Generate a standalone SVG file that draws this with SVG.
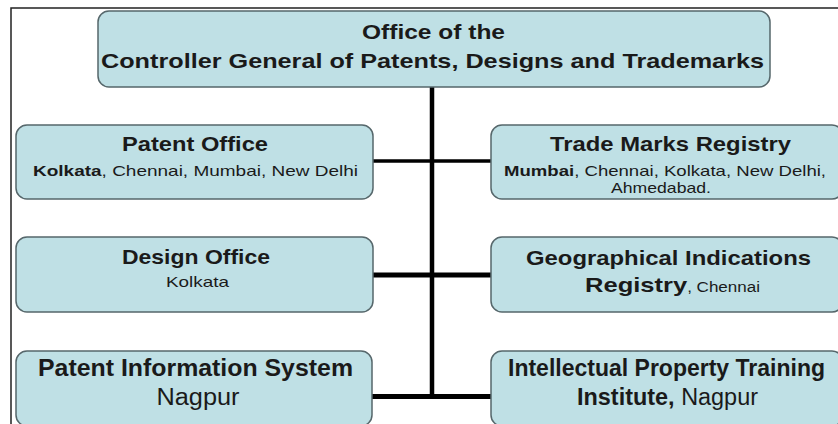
<svg xmlns="http://www.w3.org/2000/svg" width="838" height="424" viewBox="0 0 838 424">
  <style>
    .box { fill: #bfe0e5; stroke: #56676b; stroke-width: 1.5; }
    text { font-family: "Liberation Sans", Arial, sans-serif; fill: #1a1a1a; text-anchor: middle; }
    .h { font-weight: bold; font-size: 21px; }
    .hl { font-weight: bold; font-size: 23px; }
    .s { font-size: 15px; }
    .b { font-weight: bold; }
    .n { font-weight: normal; }
    .conn { stroke: #000; fill: none; }
  </style>
  <rect x="0" y="0" width="838" height="424" fill="#ffffff"/>
  <g id="frame">
    <path d="M11 424 V8 H838" fill="none" stroke="#222" stroke-width="1.5"/>
  </g>
  <g id="connectors">
    <line class="conn" x1="432" y1="87" x2="432" y2="399" stroke-width="4.5"/>
    <line class="conn" x1="373" y1="161" x2="491" y2="161" stroke-width="3.3"/>
    <line class="conn" x1="373" y1="275" x2="491" y2="275" stroke-width="5"/>
    <line class="conn" x1="372" y1="396.5" x2="491" y2="396.5" stroke-width="5"/>
  </g>
  <g id="controller-general">
    <rect class="box" x="98" y="11" width="672" height="76" rx="11"/>
    <text class="h" x="433.5" y="39" textLength="143" lengthAdjust="spacingAndGlyphs">Office of the</text>
    <text class="h" x="432.5" y="68" textLength="663" lengthAdjust="spacingAndGlyphs">Controller General of Patents, Designs and Trademarks</text>
  </g>
  <g id="patent-office">
    <rect class="box" x="16" y="125" width="357" height="74" rx="11"/>
    <text class="h" x="195" y="151" textLength="146" lengthAdjust="spacingAndGlyphs">Patent Office</text>
    <text class="s" x="195.5" y="176" textLength="325" lengthAdjust="spacingAndGlyphs"><tspan class="b">Kolkata</tspan>, Chennai, Mumbai, New Delhi</text>
  </g>
  <g id="design-office">
    <rect class="box" x="16" y="237" width="357" height="75" rx="11"/>
    <text class="h" x="196" y="264" textLength="148" lengthAdjust="spacingAndGlyphs">Design Office</text>
    <text class="s" x="197.5" y="287" textLength="63" lengthAdjust="spacingAndGlyphs">Kolkata</text>
  </g>
  <g id="patent-information-system">
    <rect class="box" x="16" y="351" width="356" height="75" rx="11"/>
    <text class="hl" x="195.5" y="376" textLength="315" lengthAdjust="spacingAndGlyphs">Patent Information System</text>
    <text class="hl n" x="198" y="405" textLength="83" lengthAdjust="spacingAndGlyphs">Nagpur</text>
  </g>
  <g id="trade-marks-registry">
    <rect class="box" x="491" y="125" width="352" height="74" rx="11"/>
    <text class="h" x="670.5" y="151" textLength="241" lengthAdjust="spacingAndGlyphs">Trade Marks Registry</text>
    <text class="s" x="665" y="176" textLength="322" lengthAdjust="spacingAndGlyphs"><tspan class="b">Mumbai</tspan>, Chennai, Kolkata, New Delhi,</text>
    <text class="s" x="661" y="193" textLength="100" lengthAdjust="spacingAndGlyphs">Ahmedabad.</text>
  </g>
  <g id="geographical-indications-registry">
    <rect class="box" x="491" y="237" width="352" height="75" rx="11"/>
    <text class="h" x="668.5" y="265" textLength="285" lengthAdjust="spacingAndGlyphs">Geographical Indications</text>
    <text class="h" x="672.5" y="292" textLength="175" lengthAdjust="spacingAndGlyphs">Registry<tspan class="n" style="font-size:14px">, Chennai</tspan></text>
  </g>
  <g id="ip-training-institute">
    <rect class="box" x="491" y="351" width="352" height="75" rx="11"/>
    <text class="hl" x="666.5" y="376" textLength="317" lengthAdjust="spacingAndGlyphs">Intellectual Property Training</text>
    <text class="hl" x="667.5" y="405" textLength="181" lengthAdjust="spacingAndGlyphs">Institute,<tspan class="n"> Nagpur</tspan></text>
  </g>
</svg>
